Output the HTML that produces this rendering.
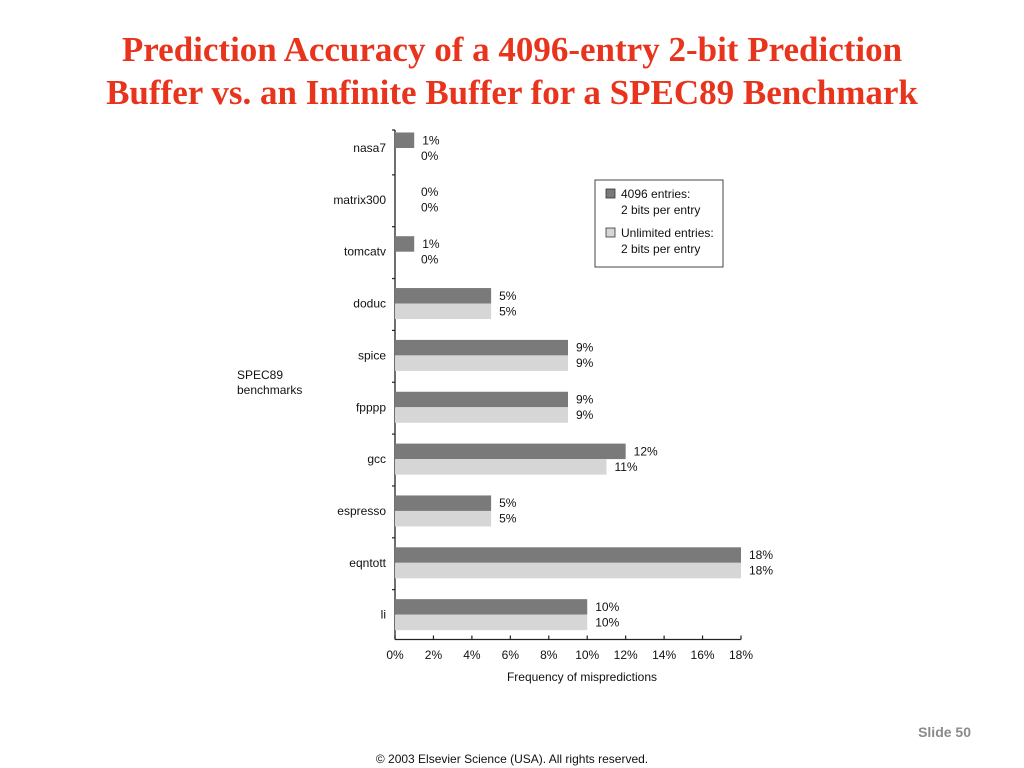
<!DOCTYPE html>
<html><head><meta charset="utf-8"><style>
body{margin:0;width:1024px;height:768px;background:#fff;overflow:hidden;position:relative;font-family:"Liberation Sans",Arial,sans-serif}
#title{position:absolute;left:0;top:28px;width:1024px;text-align:center;font-family:"Liberation Serif",serif;font-weight:bold;font-size:35px;line-height:43px;color:#e8341c}
svg{position:absolute;left:0;top:0}
svg text{font-family:"Liberation Sans",Arial,sans-serif;font-size:12px;fill:#111}
#slide{position:absolute;right:53px;top:724px;font-size:14px;font-weight:bold;color:#8a8a8a}
#copy{position:absolute;left:0;width:1024px;top:752px;text-align:center;font-size:12px;color:#111}
</style></head><body>
<div id="title">Prediction Accuracy of a 4096-entry 2-bit Prediction<br>Buffer vs. an Infinite Buffer for a SPEC89 Benchmark</div>
<svg id="chart" width="1024" height="768"></svg>
<div id="slide">Slide 50</div>
<div id="copy">© 2003 Elsevier Science (USA). All rights reserved.</div>
<script>
const categories=["nasa7","matrix300","tomcatv","doduc","spice","fpppp","gcc","espresso","eqntott","li"];
const series4096=[1,0,1,5,9,9,12,5,18,10];
const seriesUnlimited=[0,0,0,5,9,9,11,5,18,10];
const xTicks=[0,2,4,6,8,10,12,14,16,18];
const svg=document.getElementById('chart');
const NS='http://www.w3.org/2000/svg';
const x0=395,x1=741,xMax=18;
const xs=v=>x0+v/xMax*(x1-x0);
const yTop=132.5,step=51.85,bh=15.5;
const ys=i=>yTop+i*step;
function mk(t,a,txt){const e=document.createElementNS(NS,t);for(const k in a)e.setAttribute(k,a[k]);if(txt!==undefined)e.textContent=txt;svg.appendChild(e);return e;}
let e;
e=mk('line',{x1:x0,y1:130,x2:x0,y2:639.5,stroke:'#222','stroke-width':1.3});


e=mk('line',{x1:x0,y1:639.5,x2:x1,y2:639.5,stroke:'#222','stroke-width':1.3});


for(let i=0;i<=categories.length-1;i++){
  const ty=i===0?130:ys(i)-9.5;
  e=mk('line',{x1:x0-3,y1:ty,x2:x0,y2:ty,stroke:'#222','stroke-width':1.2});
  
  
}
xTicks.forEach(v=>{
  e=mk('line',{x1:xs(v),y1:635.5,x2:xs(v),y2:639.5,stroke:'#222','stroke-width':1.2});
  
  
  e=mk('text',{x:xs(v),y:659,'text-anchor':'middle'},v+'%');
  
  
});
categories.forEach((c,i)=>{
  const y=ys(i);
  e=mk('text',{x:386,y:y+bh+4,'text-anchor':'end'},c);
  
  
  e=mk('rect',{x:x0,y:y,width:xs(series4096[i])-x0,height:bh,fill:'#7a7a7a'});
  
  
  e=mk('rect',{x:x0,y:y+bh,width:xs(seriesUnlimited[i])-x0,height:bh,fill:'#d6d6d6'});
  
  
  const lx1=Math.max(xs(series4096[i]),xs(seriesUnlimited[i]),xs(1))+8;
  e=mk('text',{x:Math.max(xs(series4096[i])+8,421),y:y+bh/2+4},series4096[i]+'%');
  
  
  e=mk('text',{x:Math.max(xs(seriesUnlimited[i])+8,421),y:y+bh*1.5+4},seriesUnlimited[i]+'%');
  
  
});
e=mk('text',{x:582,y:681,'text-anchor':'middle'},'Frequency of mispredictions');


e=mk('text',{x:237,y:379},'SPEC89');


e=mk('text',{x:237,y:394},'benchmarks');


e=mk('rect',{x:595,y:180,width:128,height:87,fill:'#fff',stroke:'#444','stroke-width':1});


e=mk('rect',{x:606,y:189,width:9,height:9,fill:'#7a7a7a',stroke:'#333','stroke-width':0.8});


e=mk('text',{x:621,y:198},'4096 entries:');


e=mk('text',{x:621,y:214},'2 bits per entry');


e=mk('rect',{x:606,y:228,width:9,height:9,fill:'#d6d6d6',stroke:'#333','stroke-width':0.8});


e=mk('text',{x:621,y:237},'Unlimited entries:');


e=mk('text',{x:621,y:253},'2 bits per entry');


</script>
</body></html>
